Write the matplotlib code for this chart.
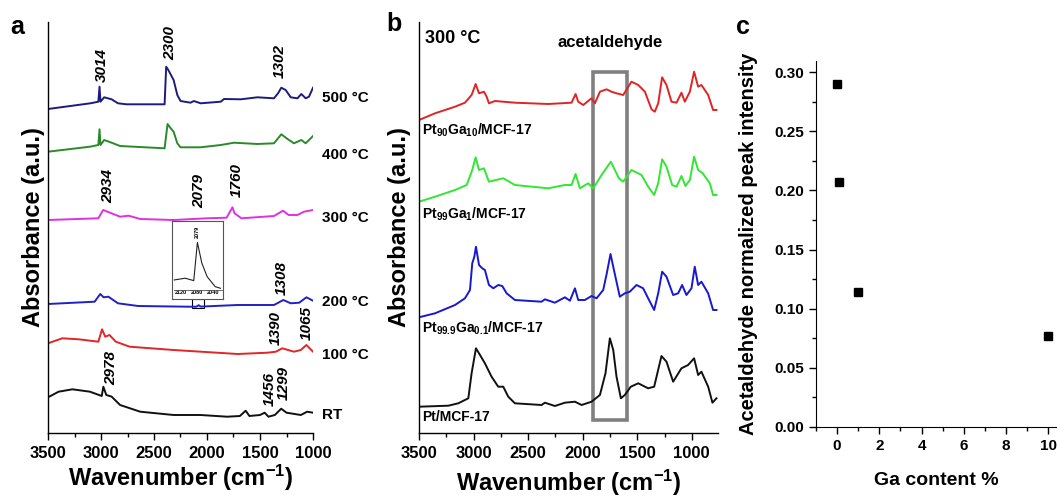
import matplotlib
matplotlib.use("Agg")
import matplotlib.pyplot as plt
import matplotlib.patches as mpatches
from matplotlib.ticker import MultipleLocator, FormatStrFormatter

plt.rcParams["font.family"] = ["Liberation Sans", "DejaVu Sans"]
plt.rcParams["font.weight"] = "bold"
plt.rcParams["mathtext.fontset"] = "custom"
plt.rcParams["mathtext.rm"] = "Liberation Sans:bold"
plt.rcParams["mathtext.bf"] = "Liberation Sans:bold"
plt.rcParams["mathtext.it"] = "Liberation Sans:bold:italic"

# ---------------------------------------------------------------------------
# Panel a: DRIFTS spectra at increasing temperature (a.u., relative to own baseline)
# ---------------------------------------------------------------------------
A500_WN = [3500, 3100, 3025, 3014, 3005, 2970, 2900, 2840, 2760, 2400, 2385, 2365, 2340,
           2315, 2280, 2250, 2155, 2124, 2060, 1870, 1840, 1680, 1525, 1368, 1330, 1299,
           1258, 1210, 1147, 1110, 1069, 1038, 1000]
A500_ABS = [0, 5.7, 7.3, 22.3, 7.3, 11.7, 9.7, 5.7, 4.7, 4.7, 42.3, 39, 34,
            29, 14, 8, 6.3, 8, 5.7, 7.3, 10, 9.7, 11.7, 10.7, 15.7, 21.3,
            19, 11.7, 10.7, 15, 10.7, 12.3, 21.3]

A400_WN = [3500, 3104, 3025, 3014, 3005, 2970, 2900, 2820, 2400, 2372, 2350, 2315, 2280,
           2250, 2060, 1870, 1745, 1525, 1368, 1299, 1240, 1180, 1110, 1069, 1000]
A400_ABS = [0, 5, 6.7, 22.4, 6.7, 11.7, 9, 5.7, 3.4, 27.7, 24.4, 20, 8.4,
            4.4, 4.4, 6.7, 9, 7.7, 8.4, 17.4, 12.7, 8.4, 11.7, 8.4, 15.7]

A300_WN = [3500, 3025, 2980, 2915, 2820, 2740, 2630, 2315, 2000, 1815, 1760, 1740, 1675,
           1368, 1283, 1230, 1147, 1085, 1000]
A300_ABS = [0, 1.7, 10, 7.3, 3.3, 4.3, 1, 0, 1.7, 2.3, 12.7, 6.7, 1.7,
            4, 9.3, 5, 5, 8.3, 10]

A200_WN = [3500, 3060, 3007, 2975, 2930, 2840, 2650, 2180, 2100, 2079, 2060, 1710, 1368,
           1280, 1210, 1130, 1062, 1000]
A200_ABS = [0, 2.3, 10, 6.7, 7.3, 0.7, -2, -2.7, -2.7, -1.2, -2.6, -1, -1,
            4, 0.7, 1.3, 6.7, 3.3]

A100_WN = [3500, 3365, 3210, 3025, 2990, 2960, 2920, 2860, 2730, 2315, 1710, 1430, 1350,
           1290, 1180, 1115, 1062, 1000]
A100_ABS = [0, 5, 4, 1.6, 14, 6.6, 8.3, 1.6, -3.4, -6.7, -10.7, -9.4, -8.4,
            -5, -8.4, -6.7, -1.7, -8.4]

ART_WN = [3500, 3400, 3270, 3104, 2993, 2978, 2950, 2900, 2820, 2630, 2315, 2060, 1810,
          1690, 1635, 1600, 1500, 1456, 1420, 1360, 1300, 1250, 1115, 1055, 1000]
ART_ABS = [0, 5.6, 8, 5.6, 1.3, 10.6, 2.3, 0.7, -7.7, -14.4, -17.7, -17.7, -19.4,
           -18.7, -13.4, -18.7, -17.7, -15.4, -19.4, -17.7, -11.4, -15.4, -17.7, -14.4, -15.4]

A_LABELS = ["500 °C", "400 °C", "300 °C", "200 °C", "100 °C", "RT"]
A_COLORS = ["#1c1c7e", "#2a8a2a", "#e030e0", "#2020c8", "#e02626", "#111111"]
A_OFFSETS = [324, 281.3, 213, 129, 89.7, 35.7]
A_LABEL_Y = [335, 278, 215, 131, 78, 18]

# peak annotations: (text, x, y)
A_PEAKS = [("3014", 2993, 368), ("2300", 2349, 390), ("1302", 1318, 371.5),
           ("2934", 2934, 246.5), ("2079", 2073, 241.5), ("1760", 1720, 253),
           ("1308", 1295, 155), ("1390", 1349, 105), ("1065", 1059, 110),
           ("2978", 2908, 65), ("1456", 1412, 44), ("1299", 1280, 50)]

# inset: zoom on the 2079 band
INSET_WN = [2136, 2109, 2088, 2079, 2068, 2055, 2035, 2022]
INSET_ABS = [10, 11.7, 9.3, 47.3, 26.7, 13.3, 3.3, 1.7]

# ---------------------------------------------------------------------------
# Panel b: spectra at 300 °C for the catalysts
# ---------------------------------------------------------------------------
B90_WN = [3500, 3353, 3170, 3079, 3018, 2981, 2950, 2905, 2880, 2859, 2804, 2621, 2316,
          2102, 2065, 2041, 1995, 1919, 1888, 1842, 1781, 1736, 1690, 1629, 1553, 1491,
          1430, 1369, 1339, 1308, 1272, 1232, 1186, 1140, 1095, 1064, 1018, 979, 942,
          912, 850, 805, 774]
B90_ABS = [0, 6.7, 13.3, 17.3, 25, 36, 26.7, 28.3, 23.3, 16.7, 19, 17.3, 16,
           17.3, 26, 18.3, 15, 21.7, 16.7, 28.3, 30.7, 28.3, 26.7, 25, 38.3, 35,
           28.3, 10.7, 8.3, 16.7, 42.7, 35, 18.3, 17.3, 27.3, 18.3, 28.3, 48.3, 33.3,
           35, 25, 10, 10]

B99_WN = [3500, 3353, 3170, 3063, 3012, 2981, 2950, 2905, 2859, 2728, 2621, 2316, 2163,
          2102, 2065, 2026, 1949, 1903, 1827, 1742, 1705, 1668, 1629, 1553, 1461, 1400,
          1345, 1308, 1272, 1232, 1180, 1140, 1095, 1058, 1018, 979, 942, 900, 835,
          805, 774]
B99_ABS = [0, 5, 11.7, 16.7, 31.7, 44.4, 31.7, 33.4, 20, 23.4, 16.7, 13.4, 16.7,
           16.7, 27.7, 13.4, 18.4, 13.4, 26.7, 40, 31.7, 23.4, 20, 31.7, 26.7, 15,
           6.7, 18.4, 42.4, 35, 16.7, 15, 25.7, 15.7, 21.7, 45, 31.7, 28.4, 18.4,
           6.7, 6.7]

B999_WN = [3500, 3353, 3170, 3079, 3033, 3012, 2993, 2978, 2950, 2920, 2896, 2859, 2819,
           2774, 2737, 2697, 2621, 2377, 2346, 2255, 2163, 2117, 2071, 2041, 1980, 1919,
           1873, 1812, 1781, 1745, 1705, 1660, 1614, 1568, 1507, 1446, 1400, 1345, 1308,
           1272, 1232, 1171, 1125, 1089, 1049, 1003, 973, 942, 912, 850, 805, 774]
B999_ABS = [0, 4, 12.3, 19, 27.3, 54, 60.6, 70.6, 52.3, 49, 47.3, 32.3, 29,
            32.3, 31.3, 24, 17.3, 15.6, 18, 14.6, 20, 16.6, 29, 17.3, 17.3, 21.3,
            19, 27.3, 43, 63.3, 43, 20.6, 24, 25.6, 32.3, 29, 19, 7.3, 24,
            45.6, 40.6, 22.3, 24, 32.3, 22.3, 29, 50.6, 32.3, 35.6, 24, 7.3, 7.3]

BPT_WN = [3500, 3231, 3140, 3048, 3018, 2978, 2941, 2896, 2835, 2774, 2728, 2682, 2621,
          2377, 2346, 2255, 2163, 2071, 2010, 1919, 1842, 1791, 1751, 1720, 1690, 1650,
          1614, 1559, 1491, 1400, 1345, 1278, 1232, 1171, 1095, 1034, 979, 942, 912,
          850, 811, 774]
BPT_ABS = [0, 1, 3.4, 8.4, 33.4, 58.4, 51.7, 43.4, 30, 20, 20, 10, 3.4,
           1.7, 4, 0.7, 4, 5, 1.7, 5, 11.7, 33.4, 68.4, 56.7, 30, 8.4,
           11.7, 20, 23.4, 18.4, 20, 50.7, 45, 25, 38.4, 41.7, 48.4, 31.7, 35,
           20, 4, 8.4]

B_LABELS = [r"Pt$_{90}$Ga$_{10}$/MCF-17", r"Pt$_{99}$Ga$_{1}$/MCF-17",
            r"Pt$_{99.9}$Ga$_{0.1}$/MCF-17", "Pt/MCF-17"]
B_COLORS = ["#e02424", "#33e633", "#1818d0", "#111111"]
B_OFFSETS = [313, 231.3, 115.7, 26.3]
B_LABEL_Y = [303, 219, 105, 16]

# ---------------------------------------------------------------------------
# Panel c: acetaldehyde peak intensity vs Ga content
# ---------------------------------------------------------------------------
GA_CONTENT = [0, 0.1, 1, 10]
PEAK_INTENSITY = [0.290, 0.207, 0.114, 0.077]

W, H = 1057, 499
fig = plt.figure(figsize=(W / 100, H / 100), dpi=100)
fig.patch.set_facecolor("white")


def px_axes(x0, y0, x1, y1):
    # pixel box (left, top, right, bottom) -> figure fraction
    return fig.add_axes([x0 / W, (H - y1) / H, (x1 - x0) / W, (y1 - y0) / H])


def style_spectrum_axes(ax, xmin):
    ax.set_xlim(3500, xmin)
    ax.set_ylim(0, 411)
    ax.set_yticks([])
    ax.spines["top"].set_visible(False)
    ax.spines["right"].set_visible(False)
    ax.spines["left"].set_linewidth(1.0)
    ax.spines["bottom"].set_linewidth(1.0)
    ax.xaxis.set_major_locator(MultipleLocator(500))
    ax.xaxis.set_minor_locator(MultipleLocator(250))
    ax.tick_params(axis="x", which="major", direction="out", length=5, width=1,
                   labelsize=12, pad=4.5)
    ax.tick_params(axis="x", which="minor", direction="out", length=3, width=1)
    for lbl in ax.get_xticklabels():
        lbl.set_fontweight("bold")


# ---- panel a ----
ax_a = px_axes(48, 22, 313, 433)
style_spectrum_axes(ax_a, 1000)
a_curves = [(A500_WN, A500_ABS), (A400_WN, A400_ABS), (A300_WN, A300_ABS),
            (A200_WN, A200_ABS), (A100_WN, A100_ABS), (ART_WN, ART_ABS)]
for (wn, ab), off, col, lab, ly in zip(a_curves, A_OFFSETS, A_COLORS, A_LABELS, A_LABEL_Y):
    ax_a.plot(wn, [v + off for v in ab], color=col, lw=1.4)
    ax_a.text(915, ly, lab, fontsize=11, fontweight="bold", ha="left", va="center",
              clip_on=False)
for txt, x, y in A_PEAKS:
    ax_a.text(x, y, txt, rotation=90, fontsize=11, fontweight="bold", style="italic",
              ha="center", va="center")
ax_a.add_patch(mpatches.Rectangle((2139, 124.7), 2025 - 2139, 9, fill=False,
                                  edgecolor="black", lw=0.8))
ax_a.set_xlabel(r"Wavenumber (cm$^{-1}$)", fontsize=17, fontweight="bold", labelpad=1)
ax_a.set_ylabel("Absorbance (a.u.)", fontsize=17, fontweight="bold", labelpad=2)
fig.text(10 / W, 1 - 27 / H, "a", fontsize=18, fontweight="bold", va="center")

# inset
ax_in = px_axes(172.3, 220.7, 223.3, 299)
ax_in.plot(INSET_WN, INSET_ABS, color="#222222", lw=0.8)
ax_in.set_xlim(2141, 2015)
ax_in.set_ylim(-9, 69)
ax_in.axhline(0, xmin=0.03, xmax=0.97, color="#555555", lw=0.6)
ax_in.set_yticks([])
ax_in.set_xticks([2120, 2080, 2040])
ax_in.tick_params(axis="x", length=0, labelsize=4, pad=-6.5)
for sp in ax_in.spines.values():
    sp.set_color("#555555")
    sp.set_linewidth(0.8)
ax_in.text(2079, 58, "2079", rotation=90, fontsize=4, fontweight="bold",
           ha="center", va="center")

# ---- panel b ----
ax_b = px_axes(419, 22, 718, 433)
style_spectrum_axes(ax_b, 760)
b_curves = [(B90_WN, B90_ABS), (B99_WN, B99_ABS), (B999_WN, B999_ABS), (BPT_WN, BPT_ABS)]
for (wn, ab), off, col, lab, ly in zip(b_curves, B_OFFSETS, B_COLORS, B_LABELS, B_LABEL_Y):
    ax_b.plot(wn, [v + off for v in ab], color=col, lw=1.4)
    ax_b.text(3472, ly, lab, fontsize=10, fontweight="bold", ha="left", va="center")
ax_b.add_patch(mpatches.Rectangle((1904, 13), 1592 - 1904, 348.3, fill=False,
                                  edgecolor="#808080", lw=2.6))
ax_b.text(3445, 394, "300 °C", fontsize=13, fontweight="bold", ha="left", va="center")
ax_b.text(1751, 390, "acetaldehyde", fontsize=12, fontweight="bold", ha="center",
          va="center")
ax_b.set_xlabel(r"Wavenumber (cm$^{-1}$)", fontsize=17, fontweight="bold", labelpad=5)
ax_b.set_ylabel("Absorbance (a.u.)", fontsize=17, fontweight="bold", labelpad=6)
fig.text(386 / W, 1 - 24 / H, "b", fontsize=18, fontweight="bold", va="center")

# ---- panel c ----
ax_c = px_axes(816, 61, 1057, 427)
ax_c.plot(GA_CONTENT, PEAK_INTENSITY, linestyle="none", marker="s", markersize=5.5,
          color="black")
ax_c.set_xlim(-1, 10.42)
ax_c.set_ylim(0, 0.3093)
ax_c.spines["top"].set_visible(False)
ax_c.spines["right"].set_visible(False)
ax_c.xaxis.set_major_locator(MultipleLocator(2))
ax_c.xaxis.set_minor_locator(MultipleLocator(1))
ax_c.yaxis.set_major_locator(MultipleLocator(0.05))
ax_c.yaxis.set_minor_locator(MultipleLocator(0.025))
ax_c.yaxis.set_major_formatter(FormatStrFormatter("%.2f"))
ax_c.tick_params(which="major", direction="out", length=5, width=1, labelsize=11)
ax_c.tick_params(which="minor", direction="out", length=3, width=1)
for lbl in ax_c.get_xticklabels() + ax_c.get_yticklabels():
    lbl.set_fontweight("bold")
ax_c.set_xlabel("Ga content %", fontsize=14, fontweight="bold", labelpad=14)
ax_c.set_ylabel("Acetaldehyde normalized peak intensity", fontsize=14.5,
                fontweight="bold", labelpad=12)
fig.text(736 / W, 1 - 27 / H, "c", fontsize=18, fontweight="bold", va="center")

fig.savefig("out.png", dpi=100, facecolor="white")
